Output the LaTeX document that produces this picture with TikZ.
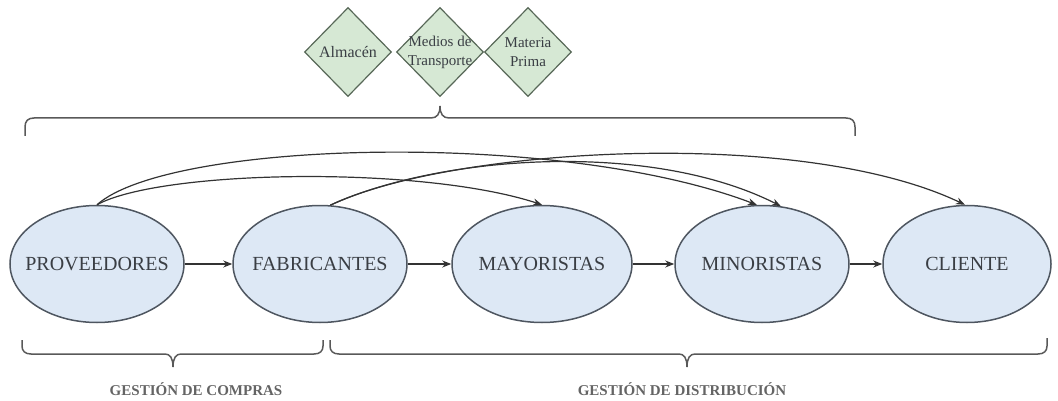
\documentclass[tikz,border=0pt]{standalone}
\usepackage{fontspec}
\setmainfont{Liberation Serif}
\usetikzlibrary{shapes.geometric,arrows.meta}
\definecolor{ellfill}{RGB}{221,232,245}
\definecolor{elldraw}{RGB}{78,86,96}
\definecolor{dfill}{RGB}{214,232,212}
\definecolor{ddraw}{RGB}{88,104,88}
\definecolor{txt}{RGB}{58,62,68}
\definecolor{lbl}{RGB}{100,100,100}
\begin{document}
\begin{tikzpicture}[x=1pt,y=-1pt,
  ell/.style={ellipse,draw=elldraw,fill=ellfill,line width=1.5pt,minimum width=174pt,minimum height=117pt,inner sep=0pt},
  etext/.style={text=txt,font=\fontsize{20}{22}\selectfont,inner sep=0pt},
  diam/.style={diamond,draw=ddraw,fill=dfill,line width=1.2pt,minimum width=87pt,minimum height=89pt,inner sep=0pt},
  dtext/.style={text=txt,font=\fontsize{15}{19}\selectfont,align=center,inner sep=0pt},
  flow/.style={draw=black!80,line width=1.2pt,-{Stealth[length=9pt,width=7pt]}},
  brc/.style={draw=black!65,line width=1.5pt},
  lab/.style={text=lbl,font=\bfseries\fontsize{15}{17}\selectfont}
]
\useasboundingbox (0,0) rectangle (1058,401);

% ellipses
\node[ell] (prov) at (97,264) {};
\node[etext] (provt) at (prov.center) {PROVEEDORES};
\node[ell] (fab) at (320,264) {};
\node[etext] (fabt) at (fab.center) {FABRICANTES};
\node[ell,minimum width=180pt] (mayor) at (542,264) {};
\node[etext] (mayort) at (mayor.center) {MAYORISTAS};
\node[ell] (minor) at (762,264) {};
\node[etext] (minort) at (minor.center) {MINORISTAS};
\node[ell,minimum width=168pt] (cli) at (967,264) {};
\node[etext] (clit) at (cli.center) {CLIENTE};

% straight connectors
\draw[flow] (prov) -- (fab);
\draw[flow] (fab) -- (mayor);
\draw[flow] (mayor) -- (minor);
\draw[flow] (minor) -- (cli);

% curved connectors
\draw[flow] (prov.north) .. controls (160,170) and (420,165) .. (mayor.north);
\draw[flow] (prov.north) .. controls (170,140) and (560,130) .. (minor.95);
\draw[flow] (fab.80) .. controls (440,155) and (650,140) .. (minor.72);
\draw[flow] (fab.80) .. controls (450,148) and (800,126) .. (cli.92);

% diamonds
\node[diam] (alm) at (348,52) {};
\node[dtext,font=\fontsize{16}{19}\selectfont] (almt) at (alm.center) {Almacén};
\node[diam] (med) at (440,52) {};
\node[dtext] (medt) at (med.center) {Medios de\\Transporte};
\node[diam] (mat) at (528,52) {};
\node[dtext] (matt) at (mat.center) {Materia\\Prima};

% braces
\draw[brc] (25,136) -- (25,127) .. controls (25,121) and (28,118) .. (34,118)
  -- (431,118) .. controls (437,118) and (440,114) .. (440,106)
  .. controls (440,114) and (443,118) .. (449,118)
  -- (846,118) .. controls (852,118) and (855,121) .. (855,127) -- (855,136);
\draw[brc] (22,340) -- (22,346) .. controls (22,351) and (25,354) .. (31,354)
  -- (165,354) .. controls (170,354) and (173,358) .. (173,367)
  .. controls (173,358) and (176,354) .. (181,354)
  -- (314,354) .. controls (320,354) and (323,351) .. (323,346) -- (323,340);
\draw[brc] (330,340) -- (330,346) .. controls (330,351) and (333,354) .. (339,354)
  -- (679,354) .. controls (684,354) and (687,358) .. (687,367)
  .. controls (687,358) and (690,354) .. (695,354)
  -- (1038,354) .. controls (1044,354) and (1047,351) .. (1047,346) -- (1047,338);

% labels
\node[lab] (lc) at (196,389) {GESTIÓN DE COMPRAS};
\node[lab] (ld) at (682,389) {GESTIÓN DE DISTRIBUCIÓN};
\end{tikzpicture}
\end{document}
